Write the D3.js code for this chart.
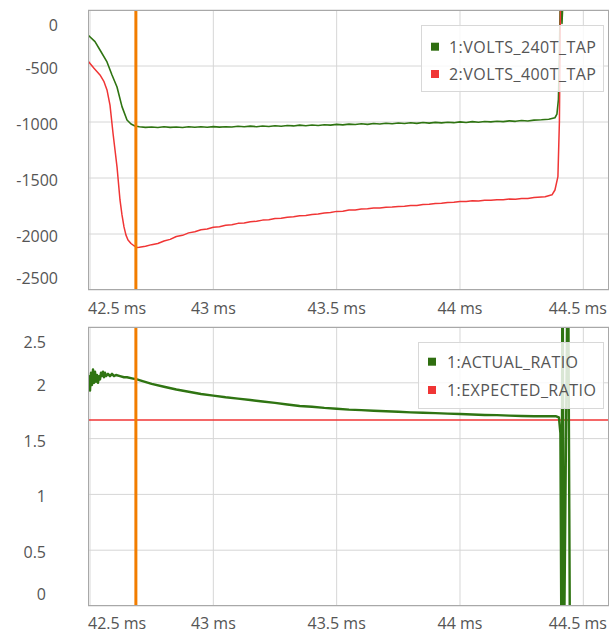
<!DOCTYPE html>
<html><head><meta charset="utf-8">
<script src="https://cdn.jsdelivr.net/npm/d3@7/dist/d3.min.js"></script>
<style>
html,body{margin:0;padding:0;background:#fff;}
svg text{font-family:"Open Sans","Noto Sans",sans-serif;font-size:16px;fill:#555;}
svg text.leg{letter-spacing:0.45px;}
</style></head><body>
<svg id="c" width="616" height="633"></svg>
<script>
// ---- data ----
const xDomain = [42.4919, 44.6041];
const xTicks = [42.5, 43, 43.5, 44, 44.5];
const xTickLabels = ["42.5 ms", "43 ms", "43.5 ms", "44 ms", "44.5 ms"];
const topYTicks = [0, -500, -1000, -1500, -2000, -2500];
const botYTicks = [2.5, 2, 1.5, 1, 0.5, 0];
const botYTickLabels = ["2.5", "2", "1.5", "1", "0.5", "0"];
const markerTime = 42.686;

const topSeriesNames = ["1:VOLTS_240T_TAP", "2:VOLTS_400T_TAP"];
const botSeriesNames = ["1:ACTUAL_RATIO", "1:EXPECTED_RATIO"];

const volts240 = [
 [42.4919,-223],[42.5203,-283],[42.5405,-357],[42.5689,-464],[42.5892,-580],[42.6095,-687],
 [42.6297,-863],[42.6500,-982],[42.6662,-1018],[42.6824,-1036],[42.70,-1042],[42.725,-1048],
 [42.75,-1044],[42.775,-1049],[42.80,-1043],[42.825,-1048],[42.85,-1044],[42.875,-1049],
 [42.90,-1043],[42.925,-1047],[42.95,-1042],[42.975,-1047],[43.00,-1041],[43.025,-1046],
 [43.05,-1042],[43.075,-1045],[43.10,-1038],[43.125,-1043],[43.15,-1037],[43.175,-1042],
 [43.20,-1036],[43.225,-1040],[43.25,-1033],[43.275,-1038],[43.30,-1031],[43.325,-1035],
 [43.35,-1028],[43.375,-1033],[43.40,-1027],[43.425,-1031],[43.45,-1024],[43.475,-1028],
 [43.50,-1021],[43.525,-1026],[43.55,-1019],[43.575,-1023],[43.60,-1016],[43.625,-1021],
 [43.65,-1014],[43.675,-1018],[43.70,-1011],[43.725,-1016],[43.75,-1009],[43.775,-1014],
 [43.80,-1007],[43.825,-1012],[43.85,-1005],[43.875,-1010],[43.90,-1003],[43.925,-1008],
 [43.95,-1002],[43.975,-1006],[44.00,-999],[44.025,-1004],[44.05,-997],[44.075,-1002],
 [44.10,-995],[44.125,-999],[44.15,-993],[44.175,-997],[44.20,-990],[44.225,-994],
 [44.25,-987],[44.275,-991],[44.30,-983],[44.33,-980],[44.36,-975],[44.385,-962],
 [44.393,-930],[44.399,-800],[44.403,-400],[44.407,200],[44.4135,-120],[44.4196,200],
 [44.45,800],[44.6041,800]
];
const volts400 = [
 [42.4919,-455],[42.5162,-520],[42.5405,-580],[42.5568,-640],[42.5689,-714],[42.5811,-850],
 [42.5932,-1098],[42.6014,-1250],[42.6095,-1400],[42.6216,-1696],[42.6297,-1830],[42.6378,-1937],
 [42.6459,-2010],[42.6541,-2054],[42.6662,-2085],[42.6784,-2105],[42.6905,-2120],[42.70,-2118],
 [42.725,-2110],[42.75,-2095],[42.775,-2085],[42.80,-2062],[42.825,-2048],[42.85,-2022],
 [42.875,-2012],[42.90,-1990],[42.925,-1980],[42.95,-1962],[42.975,-1955],[43.00,-1940],
 [43.025,-1936],[43.05,-1922],[43.075,-1918],[43.10,-1905],[43.125,-1901],[43.15,-1890],
 [43.175,-1887],[43.20,-1876],[43.225,-1873],[43.25,-1862],[43.275,-1860],[43.30,-1850],
 [43.325,-1847],[43.35,-1838],[43.375,-1834],[43.40,-1825],[43.425,-1821],[43.45,-1812],
 [43.475,-1808],[43.50,-1798],[43.525,-1796],[43.55,-1786],[43.575,-1785],[43.60,-1777],
 [43.625,-1775],[43.65,-1768],[43.675,-1767],[43.70,-1761],[43.725,-1760],[43.75,-1754],
 [43.775,-1752],[43.80,-1746],[43.825,-1745],[43.85,-1737],[43.875,-1735],[43.90,-1727],
 [43.925,-1726],[43.95,-1718],[43.975,-1717],[44.00,-1710],[44.025,-1710],[44.05,-1704],
 [44.075,-1705],[44.10,-1698],[44.125,-1699],[44.15,-1694],[44.175,-1695],[44.20,-1688],
 [44.225,-1689],[44.25,-1683],[44.275,-1682],[44.30,-1675],[44.345,-1667],[44.373,-1650],
 [44.385,-1607],[44.397,-1488],[44.403,-1000],[44.408,200],[44.6041,600]
];
const actualRatio = [
 [42.4919,1.95],[42.4959,2.06],[42.5000,1.93],[42.5041,2.09],[42.5081,1.98],[42.5122,2.12],
 [42.5162,2.00],[42.5203,2.10],[42.5243,2.01],[42.5284,2.07],[42.5324,2.00],[42.5365,2.06],
 [42.5405,2.03],[42.5446,2.09],[42.5486,2.06],[42.5527,2.10],[42.5568,2.05],[42.5608,2.09],
 [42.5649,2.06],[42.5730,2.08],[42.5811,2.06],[42.5892,2.08],[42.5973,2.06],[42.6054,2.07],
 [42.6216,2.06],[42.6378,2.05],[42.65,2.05],[42.67,2.04],[42.69,2.03],[42.72,2.01],
 [42.75,1.99],[42.80,1.965],[42.85,1.94],[42.90,1.92],[42.95,1.90],[43.00,1.885],
 [43.05,1.87],[43.10,1.858],[43.15,1.846],[43.20,1.832],[43.25,1.82],[43.30,1.805],
 [43.35,1.792],[43.40,1.785],[43.45,1.775],[43.50,1.768],[43.55,1.76],[43.60,1.755],
 [43.65,1.75],[43.70,1.745],[43.75,1.74],[43.80,1.735],[43.85,1.732],[43.90,1.728],
 [43.95,1.724],[44.00,1.72],[44.05,1.716],[44.10,1.712],[44.15,1.71],[44.20,1.706],
 [44.25,1.703],[44.30,1.70],[44.35,1.70],[44.39,1.70],[44.401,1.69],[44.407,1.55],
 [44.4115,-0.5],[44.4155,3.5],[44.4216,-0.5],[44.4378,3.5],[44.4459,-0.5],[44.6041,-0.5]
];
const expectedRatio = [[42.4919,1.667],[44.6041,1.667]];

// ---- drawing ----
const svg = d3.select("#c");
const L = 88, R = 609;
const panels = [
  {id:"top", y0:10, y1:290, dom:[-2500,0], ticks:topYTicks, labels:topYTicks.map(String), labelX:58,
   series:[{d:volts240,c:"#2f7412",w:1.6},{d:volts400,c:"#f03535",w:1.5}], names:topSeriesNames,
   leg:{x:421,y:25,w:182,h:66,rows:[46.7,74],sq:431,tx:449}, xLabelY:308},
  {id:"bot", y0:327, y1:606, dom:[0,2.5], ticks:botYTicks, labels:botYTickLabels, labelX:46,
   series:[{d:expectedRatio,c:"#f03535",w:1.5},{d:actualRatio,c:"#2f7412",w:2.4}], names:botSeriesNames,
   leg:{x:418,y:342,w:185,h:66,rows:[361.7,390],sq:428,tx:447}, xLabelY:623}
];
const legColors = [["#2f6e10","#f03535"],["#2f6e10","#f03535"]];
const x = d3.scaleLinear().domain(xDomain).range([L, R]);

panels.forEach((p, pi) => {
  const y = d3.scaleLinear().domain(p.dom).range([p.y1, p.y0]);
  const g = svg.append("g");
  g.append("clipPath").attr("id","clip"+p.id).append("rect")
    .attr("x",L).attr("y",p.y0).attr("width",R-L).attr("height",p.y1-p.y0);
  // grid
  g.append("g").selectAll("line.v").data(xTicks).join("line")
    .attr("x1",d=>x(d)).attr("x2",d=>x(d)).attr("y1",p.y0).attr("y2",p.y1)
    .attr("stroke","#d6d6d6").attr("stroke-width",1);
  g.append("g").selectAll("line.h").data(p.ticks).join("line")
    .attr("x1",L).attr("x2",R).attr("y1",d=>y(d)).attr("y2",d=>y(d))
    .attr("stroke","#d6d6d6").attr("stroke-width",1);
  // series
  const line = d3.line().x(d=>x(d[0])).y(d=>y(d[1]));
  const sg = g.append("g").attr("clip-path","url(#clip"+p.id+")");
  p.series.forEach(s => {
    sg.append("path").attr("d", line(s.d)).attr("fill","none")
      .attr("stroke", s.c).attr("stroke-width", s.w).attr("stroke-linejoin","round");
  });
  // marker
  sg.append("line").attr("x1",x(markerTime)).attr("x2",x(markerTime))
    .attr("y1",p.y0).attr("y2",p.y1).attr("stroke","#f27d00").attr("stroke-width",3);
  // border
  g.append("rect").attr("x",L+0.5).attr("y",p.y0+0.5).attr("width",R-L-1).attr("height",p.y1-p.y0-1)
    .attr("fill","none").attr("stroke","#a8a8a8").attr("stroke-width",1);
  // y labels
  const n = p.ticks.length;
  g.append("g").selectAll("text").data(p.ticks).join("text")
    .attr("x", p.labelX).attr("text-anchor","end")
    .attr("y", (d,i)=> y(d) + (i===0 ? 15 : (i===n-1 ? -12 : 2)))
    .attr("dominant-baseline","central")
    .text((d,i)=>p.labels[i]);
  // x labels
  const m = xTicks.length;
  g.append("g").selectAll("text").data(xTicks).join("text")
    .attr("x",(d,i)=> i===0 ? L : (i===m-1 ? R-2 : x(d)))
    .attr("text-anchor",(d,i)=> i===0 ? "start" : (i===m-1 ? "end" : "middle"))
    .attr("y", p.xLabelY).attr("dominant-baseline","central")
    .text((d,i)=>xTickLabels[i]);
  // legend
  const lg = g.append("g");
  lg.append("rect").attr("x",p.leg.x+0.5).attr("y",p.leg.y+0.5).attr("width",p.leg.w).attr("height",p.leg.h)
    .attr("fill","#fff").attr("fill-opacity",0.82).attr("stroke","#d8d8d8");
  p.names.forEach((nm,i)=>{
    lg.append("rect").attr("x",p.leg.sq).attr("y",p.leg.rows[i]-4).attr("width",8).attr("height",8)
      .attr("fill",legColors[pi][i]);
    lg.append("text").attr("class","leg").attr("x",p.leg.tx).attr("y",p.leg.rows[i])
      .attr("dominant-baseline","central").text(nm);
  });
});
</script>
</body></html>
